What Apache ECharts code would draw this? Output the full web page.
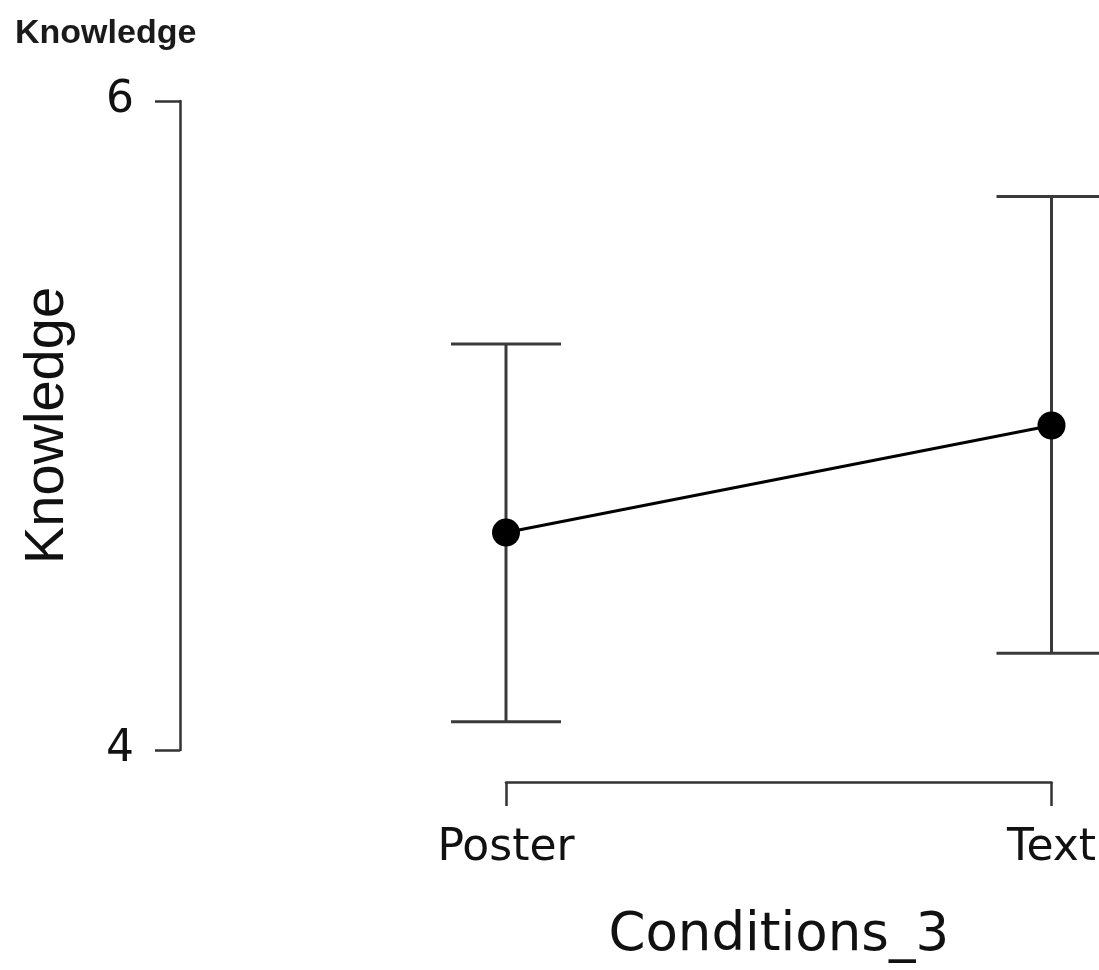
<!DOCTYPE html>
<html>
<head>
<meta charset="utf-8">
<script src="https://cdn.jsdelivr.net/npm/echarts@6/dist/echarts.min.js"></script>
<style>
  html, body { margin: 0; padding: 0; background: #fff; }
  #chart { width: 1099px; height: 970px; }
</style>
</head>
<body>
<div id="chart"></div>
<script>
// values
var categories = ['Poster', 'Text'];
var means = [4.67, 5.0];
var lower = [4.087, 4.298];
var upper = [5.251, 5.706];
var yTicks = [4, 6];

var myChart = echarts.init(document.getElementById('chart'));

let barData = [];
for (let i = 0; i < categories.length; i++) {
    barData.push([i, lower[i], upper[i]]);
}

function renderErrorBar(params, api) {
    let x = api.value(0);
    let lo = api.coord([x, api.value(1)]);
    let hi = api.coord([x, api.value(2)]);
    let half = 55;
    let style = {stroke: '#3a3a3a', lineWidth: 3};
    return {
        type: 'group',
        children: [
            {type: 'line', shape: {x1: lo[0], y1: lo[1], x2: hi[0], y2: hi[1]}, style: style},
            {type: 'line', shape: {x1: hi[0] - half, y1: hi[1], x2: hi[0] + half, y2: hi[1]}, style: style},
            {type: 'line', shape: {x1: lo[0] - half, y1: lo[1], x2: lo[0] + half, y2: lo[1]}, style: style}
        ]
    };
}

let option = {
    backgroundColor: '#fff',
    animation: false,
    title: {
        text: 'Knowledge',
        left: 10,
        top: 12,
        textStyle: {
            fontFamily: 'Liberation Sans',
            fontWeight: 'bold',
            fontSize: 34,
            color: '#1a1a1a'
        }
    },
    grid: {
        left: 506,
        right: 46,
        top: 101,
        bottom: 220
    },
    xAxis: {
        type: 'category',
        data: categories,
        boundaryGap: false,
        offset: 32,
        name: 'Conditions_3',
        nameLocation: 'middle',
        nameGap: 128,
        nameTextStyle: {
            fontFamily: 'DejaVu Sans',
            fontSize: 53,
            color: '#111'
        },
        axisLine: {lineStyle: {color: '#333', width: 2.5}},
        axisTick: {show: true, length: 24, inside: false, lineStyle: {color: '#333', width: 2.5}},
        axisLabel: {
            margin: 45,
            fontFamily: 'DejaVu Sans',
            fontSize: 44,
            color: '#111'
        },
        splitLine: {show: false}
    },
    yAxis: {
        type: 'value',
        min: yTicks[0],
        max: yTicks[1],
        interval: yTicks[1] - yTicks[0],
        offset: 326,
        name: 'Knowledge',
        nameLocation: 'middle',
        nameRotate: 90,
        nameGap: 104,
        nameTextStyle: {
            fontFamily: 'Liberation Sans',
            fontSize: 56,
            color: '#111'
        },
        axisLine: {show: true, lineStyle: {color: '#333', width: 2.5}},
        axisTick: {show: true, length: 25, inside: false, lineStyle: {color: '#333', width: 2.5}},
        axisLabel: {
            margin: 46,
            padding: [10, 0, 0, 0],
            fontFamily: 'DejaVu Sans',
            fontSize: 44,
            color: '#111'
        },
        splitLine: {show: false}
    },
    series: [
        {
            type: 'custom',
            renderItem: renderErrorBar,
            data: barData,
            clip: false,
            z: 1
        },
        {
            type: 'line',
            data: means,
            symbol: 'circle',
            symbolSize: 28,
            lineStyle: {color: '#000', width: 3},
            itemStyle: {color: '#000'},
            z: 2
        }
    ]
};
myChart.setOption(option);
</script>
</body>
</html>
